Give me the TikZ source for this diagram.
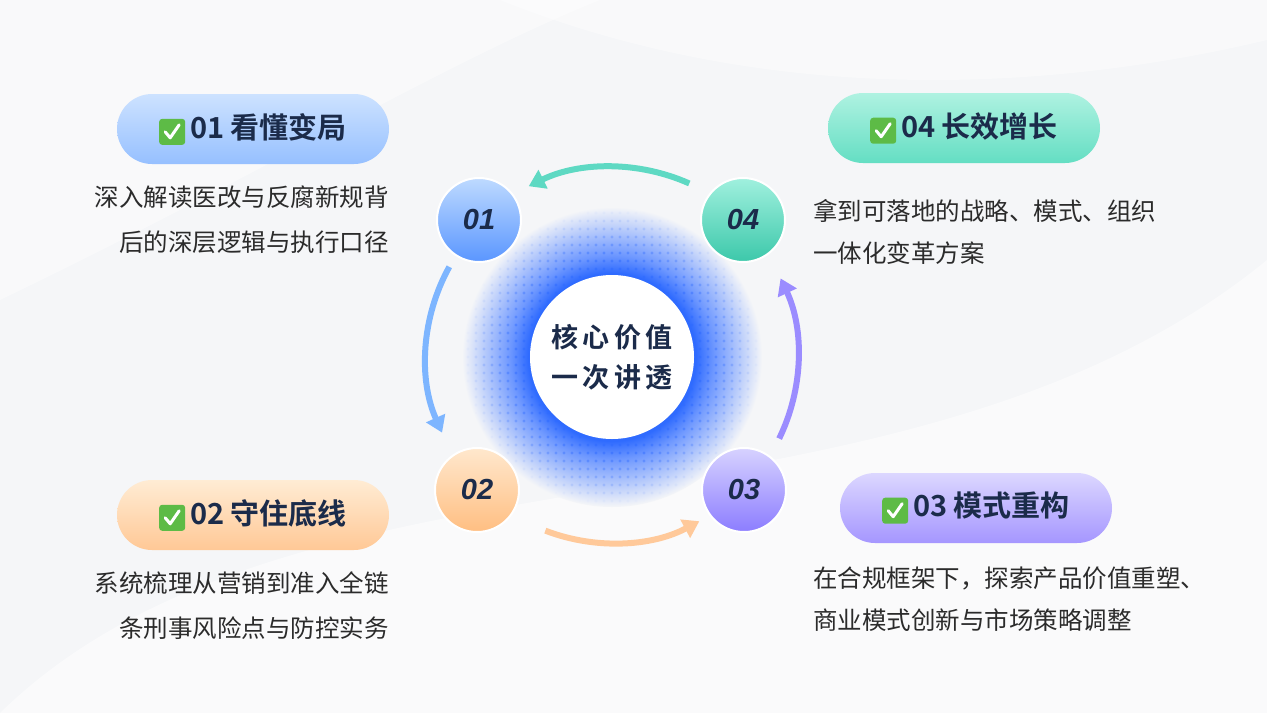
\documentclass[tikz,border=0pt]{standalone}
\usepackage{fontspec}
\setmainfont{Noto Sans CJK SC}
\newfontfamily\cjkb{Noto Sans CJK SC Bold}
\newfontfamily\numf{Liberation Sans}
\usetikzlibrary{arrows.meta,shapes.misc,calc}
\definecolor{bg}{HTML}{F5F6F8}
\definecolor{glowc}{HTML}{2F6BFF}
\definecolor{navy}{HTML}{1B2B4A}
\definecolor{txt}{HTML}{2B2B2B}
\definecolor{chkg}{HTML}{5DBB46}
\pgfdeclareradialshading{glow}{\pgfpoint{0bp}{0bp}}{color(0bp)=(glowc);color(14bp)=(glowc);color(17bp)=(glowc!70!white);color(25bp)=(bg);color(50bp)=(bg)}
\newcommand\chkbox{\tikz[baseline=-0.4ex,x=1pt,y=1pt]{\fill[chkg,rounded corners=3pt] (0,-13) rectangle (26,13);\draw[white,line width=3pt,line cap=round,line join=round] (6,0) -- (11,-6) -- (20,7);}}
\tikzset{
 pill/.style={rounded rectangle,minimum width=272pt,minimum height=70pt,inner sep=0pt,font=\cjkb\fontsize{29}{32}\selectfont,text=navy},
 num/.style={circle,minimum size=84pt,draw=white,line width=2pt,font=\numf\bfseries\itshape\fontsize{29}{30}\selectfont,text=navy},
 desc/.style={font=\fontsize{24.5}{26}\selectfont,text=txt,inner sep=0pt},
 arr/.style={line width=6pt,-{Triangle[width=20pt,length=16pt]}},
}
\begin{document}
\begin{tikzpicture}[x=1pt,y=-1pt]
\fill[bg] (0,0) rectangle (1267,713);
\useasboundingbox (0,0) rectangle (1267,713);
% swooshes
\fill[white,opacity=0.5] (0,713) .. controls (300,420) and (900,560) .. (1267,260) -- (1267,713) -- cycle;
\fill[white,opacity=0.4] (500,0) .. controls (800,120) and (1100,80) .. (1267,40) -- (1267,0) -- cycle;
\fill[white,opacity=0.4] (0,300) .. controls (250,180) and (450,60) .. (600,0) -- (0,0) -- cycle;
% glow
\coordinate (c) at (612,357);
\shade[shading=glow] (c) circle (150);
\foreach \i in {-18,...,18}{\foreach \j in {-18,...,18}{
 \pgfmathsetmacro\d{sqrt(\i*\i+\j*\j)*8}
 \ifdim\d pt<148pt \ifdim\d pt>84pt
 \pgfmathsetmacro\op{max(0,1-(\d-84)/64)*0.6}
 \fill[glowc,opacity=\op] ($(c)+(\i*8,\j*8)$) circle (1.6);
 \fi\fi}}
\node[circle,fill=white,minimum size=164pt] (core) at (c) {};
\node[font=\cjkb\fontsize{27}{40}\selectfont,text=navy,align=center] (coret) at (c) {核\,心\,价\,值\\一\,次\,讲\,透};
% arcs
\coordinate (a1) at ([shift={(c)}] -66:190);
\draw[arr,color={rgb,255:red,94;green,217;blue,195}] (a1) arc[start angle=-66,end angle=-116,radius=190];
\draw[arr,color={rgb,255:red,125;green,181;blue,255}] ([shift={(c)}] -151:186) coordinate (b1) arc[start angle=-151,end angle=-204,radius=186];
\draw[arr,color={rgb,255:red,255;green,201;blue,154}] ([shift={(c)}] -249:186) coordinate (d1) arc[start angle=-249,end angle=-298,radius=186];
\draw[arr,color={rgb,255:red,155;green,140;blue,255}] ([shift={(c)}] 26:186) coordinate (e1) arc[start angle=26,end angle=-25,radius=186];
% number circles
\node[num,top color={rgb,255:red,190;green,218;blue,255},bottom color={rgb,255:red,90;green,150;blue,255}] (n1) at (479,220) {01};
\node[num,top color={rgb,255:red,160;green,240;blue,222},bottom color={rgb,255:red,60;green,200;blue,170}] (n4) at (743,220) {04};
\node[num,top color={rgb,255:red,255;green,232;blue,205},bottom color={rgb,255:red,255;green,190;blue,130}] (n2) at (477,490) {02};
\node[num,top color={rgb,255:red,215;green,210;blue,255},bottom color={rgb,255:red,140;green,125;blue,255}] (n3) at (744,490) {03};
% pills
\node[pill,top color={rgb,255:red,205;green,226;blue,255},bottom color={rgb,255:red,150;green,192;blue,255}] (p1) at (253,129) {\chkbox\,01 看懂变局};
\node[pill,top color={rgb,255:red,175;green,242;blue,225},bottom color={rgb,255:red,100;green,222;blue,195}] (p4) at (964,128) {\chkbox\,04 长效增长};
\node[pill,top color={rgb,255:red,255;green,236;blue,212},bottom color={rgb,255:red,255;green,200;blue,150}] (p2) at (253,515) {\chkbox\,02 守住底线};
\node[pill,top color={rgb,255:red,220;green,215;blue,255},bottom color={rgb,255:red,165;green,150;blue,255}] (p3) at (976,508) {\chkbox\,03 模式重构};
% descriptions
\node[desc,anchor=east] (t1a) at (389,197) {深入解读医改与反腐新规背};
\node[desc,anchor=east] (t1b) at (389,242) {后的深层逻辑与执行口径};
\node[desc,anchor=east] (t2a) at (389,583) {系统梳理从营销到准入全链};
\node[desc,anchor=east] (t2b) at (389,628) {条刑事风险点与防控实务};
\node[desc,anchor=west] (t4a) at (813,211) {拿到可落地的战略、模式、组织};
\node[desc,anchor=west] (t4b) at (813,253) {一体化变革方案};
\node[desc,anchor=west] (t3a) at (813,578) {在合规框架下，探索产品价值重塑、};
\node[desc,anchor=west] (t3b) at (813,620) {商业模式创新与市场策略调整};
\end{tikzpicture}
\end{document}
